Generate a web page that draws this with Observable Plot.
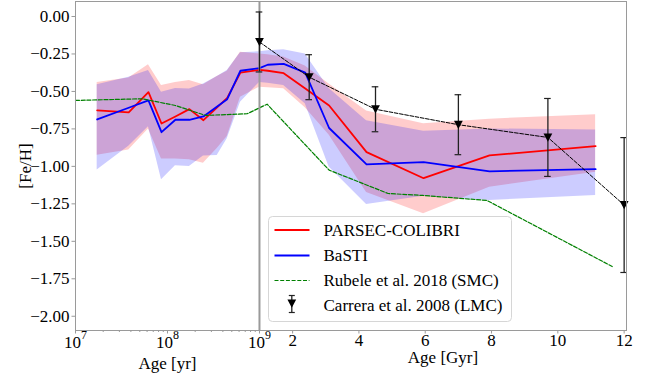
<!DOCTYPE html>
<html><head><meta charset="utf-8">
<script src="https://cdn.jsdelivr.net/npm/d3@7"></script>
<script src="https://cdn.jsdelivr.net/npm/@observablehq/plot@0.6"></script>
<style>
body{margin:0;background:#fff}
#chart{width:652px;height:379px}
#chart svg text, #chart svg tspan{font-family:'Liberation Serif','Times New Roman',serif !important;}
</style>
</head><body><div id="chart"></div>
<script>
// ---- data (ages in Gyr) ----
const ages     = [0.0172,0.0379,0.0621,0.0861,0.122,0.173,0.246,0.347,0.446,0.621,1.0,1.25,1.73,2.38,3.1,4.23,5.95,7.94,11.14];
const parsec   = [-0.627,-0.640,-0.505,-0.714,-0.667,-0.618,-0.692,-0.606,-0.543,-0.374,-0.356,-0.362,-0.378,-0.48,-0.594,-0.905,-1.079,-0.927,-0.865];
const parsecHi = [-0.44,-0.41,-0.322,-0.46,-0.44,-0.427,-0.455,-0.40,-0.365,-0.238,-0.25,-0.255,-0.27,-0.33,-0.45,-0.63,-0.715,-0.685,-0.655];
const parsecLo = [-0.925,-0.89,-0.75,-0.95,-0.95,-0.955,-0.979,-0.88,-0.80,-0.538,-0.472,-0.475,-0.482,-0.609,-0.79,-1.175,-1.316,-1.139,-1.039];
const basti    = [-0.687,-0.609,-0.560,-0.772,-0.689,-0.689,-0.667,-0.60,-0.552,-0.362,-0.345,-0.322,-0.316,-0.375,-0.744,-0.987,-0.972,-1.033,-1.019];
const bastiHi  = [-0.455,-0.405,-0.36,-0.505,-0.48,-0.483,-0.45,-0.40,-0.36,-0.242,-0.235,-0.228,-0.222,-0.25,-0.48,-0.695,-0.765,-0.75,-0.758];
const bastiLo  = [-1.025,-0.865,-0.735,-1.09,-0.995,-1.0,-0.93,-0.927,-0.816,-0.572,-0.44,-0.445,-0.46,-0.582,-1.005,-1.255,-1.20,-1.227,-1.194];

const rubeleAge = [0.01,0.0531,0.122,0.259,0.735,1.23,3.1,4.88,5.93,7.86,11.64];
const rubeleFeH = [-0.56,-0.549,-0.594,-0.66,-0.649,-0.585,-1.025,-1.181,-1.194,-1.227,-1.668];

const carreraAge = [1.0,2.5,4.5,7.0,9.7,12.0];
const carreraFeH = [-0.17,-0.405,-0.619,-0.722,-0.807,-1.258];
const carreraErr = [0.2,0.15,0.15,0.2,0.26,0.45];

const yTicks = [0,-0.25,-0.5,-0.75,-1,-1.25,-1.5,-1.75,-2];
const logTickAges = [0.01,0.1,1];            // 10^7, 10^8, 10^9 yr
const logTickLabels = ["10^7","10^8","10^9"];
const linTickAges = [2,4,6,8,10,12];         // Gyr
const linTickLabels = ["2","4","6","8","10","12"];
const legendLabels = ["PARSEC-COLIBRI","BaSTI","Rubele et al. 2018 (SMC)","Carrera et al. 2008 (LMC)"];

// ---- broken axis: log below 1 Gyr, linear above ----
const K = 0.3604;
const U = a => a <= 1 ? Math.log10(a) : (a - 1) * K;

const models = ages.map((a,i) => ({u:U(a), p:parsec[i], pLo:parsecLo[i], pHi:parsecHi[i], b:basti[i], bLo:bastiLo[i], bHi:bastiHi[i]}));
const rubele = rubeleAge.map((a,i) => ({u:U(a), v:rubeleFeH[i]}));
const carrera = carreraAge.map((a,i) => ({u:U(a), v:carreraFeH[i], lo:carreraFeH[i]-carreraErr[i], hi:carreraFeH[i]+carreraErr[i]}));
const minorAges = [];
for (const d of [0.01,0.1]) for (let k=2;k<=9;k++) minorAges.push(k*d);

const triDown = {draw(ctx, size){ const r = Math.sqrt(size/Math.PI); ctx.moveTo(-r,-r*0.9); ctx.lineTo(r,-r*0.9); ctx.lineTo(0,r*0.95); ctx.closePath(); }};
const cw = 0.036;
const grey = "#9a9a9a";
const FONT = "'Liberation Serif', 'Times New Roman', serif";

const plot = Plot.plot({
  width: 652, height: 379,
  marginLeft: 75, marginRight: 26, marginTop: 1, marginBottom: 49,
  style: {fontFamily: FONT, fontSize: "17px", color: "black", background: "white"},
  x: {domain: [-2, 3.99], axis: null},
  y: {domain: [-2.095, 0.1], axis: null},
  marks: [
    Plot.areaY(models, {x:"u", y1:"pLo", y2:"pHi", fill:"red", fillOpacity:0.2}),
    Plot.areaY(models, {x:"u", y1:"bLo", y2:"bHi", fill:"blue", fillOpacity:0.2}),
    Plot.line(models, {x:"u", y:"p", stroke:"red", strokeWidth:1.8}),
    Plot.line(models, {x:"u", y:"b", stroke:"blue", strokeWidth:1.8}),
    Plot.line(rubele, {x:"u", y:"v", stroke:"green", strokeWidth:1.2, strokeDasharray:"4,1.7"}),
    Plot.ruleX([0], {stroke: grey, strokeWidth: 2}),
    Plot.line(carrera, {x:"u", y:"v", stroke:"black", strokeWidth:1, strokeDasharray:"3.7,1.6"}),
    Plot.ruleX(carrera, {x:"u", y1:"lo", y2:"hi", stroke:"#222", strokeWidth:1.3}),
    Plot.ruleY(carrera, {y:"lo", x1: d => d.u - cw, x2: d => d.u + cw, stroke:"#222", strokeWidth:1.2}),
    Plot.ruleY(carrera, {y:"hi", x1: d => d.u - cw, x2: d => d.u + cw, stroke:"#222", strokeWidth:1.2}),
    Plot.dot(carrera, {x:"u", y:"v", symbol: triDown, r: 4.4, fill:"black", stroke:"none"}),
    Plot.frame({stroke: grey}),
    Plot.axisY({ticks: yTicks, tickFormat: d3.format(".2f"), tickSize: 3.5, tickPadding: 2.5, label: null, stroke: grey, fontSize: 17}),
    Plot.axisX({ticks: linTickAges.map(U), tickFormat: (d) => linTickLabels[linTickAges.findIndex(a => Math.abs(U(a)-d) < 1e-6)], tickSize: 3.5, tickPadding: 0, label: null, stroke: grey, fontSize: 17}),
    Plot.axisX({ticks: logTickAges.map(U), tickFormat: (d) => logTickLabels[logTickAges.findIndex(a => Math.abs(U(a)-d) < 1e-6)], tickSize: 3.5, tickPadding: 2, label: null, stroke: grey, fontSize: 17}),
    Plot.axisX({ticks: minorAges.map(U), tickFormat: () => "", tickSize: 2, label: null, stroke: grey}),
    Plot.text([{u: -1.0, t: "Age [yr]"}], {x:"u", text:"t", frameAnchor:"bottom", lineAnchor:"middle", textAnchor:"middle", dy: 33, fontSize: 17}),
    Plot.text([{u: 1.995, t: "Age [Gyr]"}], {x:"u", text:"t", frameAnchor:"bottom", lineAnchor:"middle", textAnchor:"middle", dy: 27.5, fontSize: 17}),
    Plot.text(["[Fe/H]"], {text: d => d, frameAnchor:"left", lineAnchor:"middle", textAnchor:"middle", rotate: -90, dx: -50, fontSize: 17})
  ]
});

document.getElementById("chart").appendChild(plot);
const svg = d3.select(plot.tagName.toLowerCase() === "svg" ? plot : plot.querySelector("svg"));

// superscript tick labels
svg.selectAll("text").each(function(){
  const t = this.textContent;
  const m = /^10\^(\d)$/.exec(t);
  if (m) {
    const el = d3.select(this);
    el.text(null);
    el.append("tspan").text("10");
    el.append("tspan").attr("font-size", "12px").attr("dy", "-0.75em").text(m[1]);
  }
});

// legend inside the plot area
const lg = svg.append("g").attr("transform", "translate(268.5,216.5)")
  .attr("font-family", FONT).attr("font-size", 17).attr("text-anchor", "start");
lg.append("rect").attr("width", 243).attr("height", 105).attr("rx", 4)
  .attr("fill", "white").attr("fill-opacity", 0.8).attr("stroke", "#d6d6d6");
const rowsY = [13.5, 39, 64, 89];
const sw = [{stroke:"red", w:1.8, dash:null}, {stroke:"blue", w:1.8, dash:null}, {stroke:"green", w:1.2, dash:"4,1.7"}];
sw.forEach((s,i) => {
  lg.append("line").attr("x1", 6).attr("x2", 41).attr("y1", rowsY[i]).attr("y2", rowsY[i])
    .attr("stroke", s.stroke).attr("stroke-width", s.w).attr("stroke-dasharray", s.dash);
});
// Carrera legend symbol
const cy = rowsY[3] - 2, cx = 23.3;
lg.append("line").attr("x1", cx).attr("x2", cx).attr("y1", cy - 8).attr("y2", cy + 9).attr("stroke", "#222").attr("stroke-width", 1.3);
lg.append("line").attr("x1", cx-3).attr("x2", cx+3).attr("y1", cy - 8).attr("y2", cy - 8).attr("stroke", "#222").attr("stroke-width", 1.2);
lg.append("line").attr("x1", cx-3).attr("x2", cx+3).attr("y1", cy + 9).attr("y2", cy + 9).attr("stroke", "#222").attr("stroke-width", 1.2);
lg.append("path").attr("d", `M${cx-4.4},${cy-4}L${cx+4.4},${cy-4}L${cx},${cy+4.2}Z`).attr("fill", "black");
legendLabels.forEach((t,i) => {
  lg.append("text").attr("x", 55).attr("y", rowsY[i]).attr("dy", "0.35em").attr("text-anchor", "start").text(t);
});
</script>
</body></html>
